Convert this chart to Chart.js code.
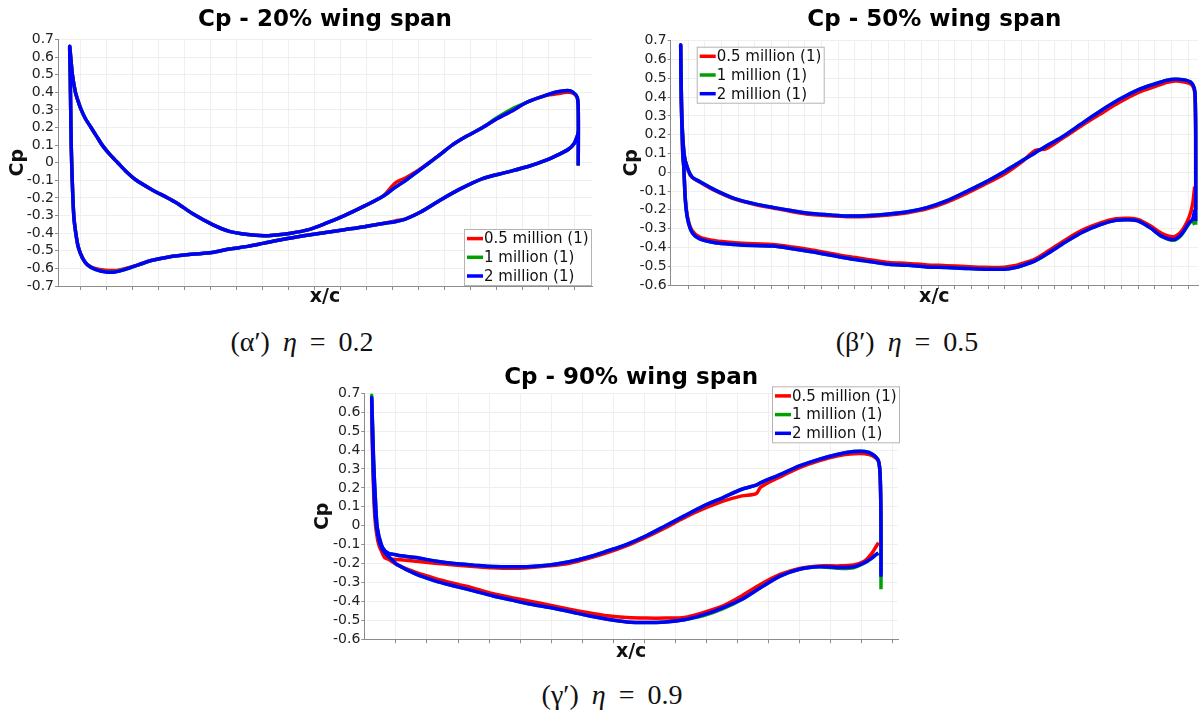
<!DOCTYPE html>
<html>
<head>
<meta charset="utf-8">
<title>Cp distribution along the wing span</title>
<script src="https://cdn.jsdelivr.net/npm/chart.js@4.4.0/dist/chart.umd.min.js"></script>
<style>
  html, body { margin: 0; padding: 0; background: #fff; overflow: hidden; }
  body { width: 1204px; height: 713px; position: relative; }
  canvas { position: absolute; }
  .caption {
    position: absolute;
    font-family: "Liberation Serif", serif;
    font-size: 28px;
    line-height: 30px;
    color: #111;
    white-space: nowrap;
    transform: translateX(-50%);
    word-spacing: 6px;
  }
  .caption i { font-style: italic; }
</style>
</head>
<body>
<canvas id="span20" width="600" height="312" style="left:0;top:0"></canvas>
<canvas id="span50" width="594" height="312" style="left:610px;top:0"></canvas>
<canvas id="span90" width="604" height="312" style="left:300px;top:360px"></canvas>

<div class="caption" style="left:302px;top:327px">(α′) <i>η</i> = 0.2</div>
<div class="caption" style="left:907px;top:327px">(β′) <i>η</i> = 0.5</div>
<div class="caption" style="left:612px;top:680px">(γ′) <i>η</i> = 0.9</div>

<script>
// Mesh sizes compared in every plot
const seriesLabels = ['0.5 million (1)', '1 million (1)', '2 million (1)'];
const seriesColors = ['#ff0000', '#00a000', '#0000ff'];

// --- 20% span: x/c goes TE -> suction side -> LE -> pressure side -> TE
const span20X = [
  1.000, 1.000, 0.998, 0.990, 0.979, 0.955, 0.933, 0.900, 0.873, 0.840, 0.812, 0.780,
  0.752, 0.730, 0.707, 0.684, 0.661, 0.640, 0.616, 0.580, 0.540, 0.503, 0.470, 0.435,
  0.400, 0.382, 0.350, 0.314, 0.280, 0.242, 0.215, 0.204, 0.193, 0.160, 0.129, 0.111,
  0.0945, 0.078, 0.064, 0.053, 0.042, 0.031, 0.0227, 0.0165, 0.0113, 0.0053, 0.002, 0.000,
  0.001, 0.002, 0.003, 0.005, 0.008, 0.012, 0.017, 0.025, 0.035, 0.050, 0.070, 0.090,
  0.110, 0.135, 0.160, 0.195, 0.240, 0.280, 0.314, 0.350, 0.380, 0.420, 0.460, 0.500,
  0.540, 0.580, 0.616, 0.640, 0.660, 0.690, 0.730, 0.767, 0.812, 0.858, 0.903, 0.933,
  0.960, 0.980, 0.992, 0.998, 1.000
];
const span20Red = [
  -0.015, 0.30, 0.37, 0.395, 0.40, 0.39, 0.38, 0.345, 0.30, 0.25, 0.20, 0.15,
  0.10, 0.05, 0.00, -0.045, -0.085, -0.115, -0.19, -0.245, -0.30, -0.345, -0.38, -0.40,
  -0.412, -0.415, -0.408, -0.39, -0.35, -0.29, -0.237, -0.218, -0.20, -0.15, -0.095, -0.05,
  0.00, 0.05, 0.10, 0.15, 0.20, 0.25, 0.30, 0.35, 0.40, 0.50, 0.60, 0.66,
  0.50, 0.30, 0.10, -0.10, -0.30, -0.40, -0.48, -0.54, -0.58, -0.60, -0.61, -0.612,
  -0.60, -0.58, -0.555, -0.535, -0.52, -0.51, -0.49, -0.475, -0.458, -0.435, -0.415, -0.397,
  -0.38, -0.363, -0.345, -0.33, -0.32, -0.28, -0.21, -0.15, -0.09, -0.055, -0.02, 0.01,
  0.045, 0.075, 0.11, 0.15, 0.175
];
const span20Green = [
  -0.015, 0.30, 0.37, 0.40, 0.41, 0.40, 0.38, 0.345, 0.31, 0.255, 0.20, 0.15,
  0.10, 0.05, 0.00, -0.05, -0.10, -0.14, -0.19, -0.245, -0.30, -0.345, -0.38, -0.40,
  -0.412, -0.415, -0.408, -0.39, -0.35, -0.29, -0.237, -0.218, -0.20, -0.15, -0.095, -0.05,
  0.00, 0.05, 0.10, 0.15, 0.20, 0.25, 0.30, 0.35, 0.40, 0.50, 0.60, 0.66,
  0.50, 0.30, 0.10, -0.10, -0.30, -0.40, -0.48, -0.54, -0.58, -0.605, -0.617, -0.617,
  -0.605, -0.58, -0.555, -0.535, -0.52, -0.51, -0.49, -0.475, -0.458, -0.435, -0.415, -0.397,
  -0.38, -0.363, -0.345, -0.335, -0.32, -0.28, -0.21, -0.15, -0.09, -0.055, -0.02, 0.01,
  0.045, 0.075, 0.11, 0.15, 0.175
];
const span20Blue = [
  -0.015, 0.30, 0.37, 0.40, 0.41, 0.40, 0.38, 0.345, 0.30, 0.25, 0.20, 0.15,
  0.10, 0.05, 0.00, -0.05, -0.10, -0.14, -0.19, -0.245, -0.30, -0.345, -0.38, -0.40,
  -0.412, -0.415, -0.408, -0.39, -0.35, -0.29, -0.237, -0.218, -0.20, -0.15, -0.095, -0.05,
  0.00, 0.05, 0.10, 0.15, 0.20, 0.25, 0.30, 0.35, 0.40, 0.50, 0.60, 0.66,
  0.50, 0.30, 0.10, -0.10, -0.30, -0.40, -0.48, -0.54, -0.58, -0.605, -0.62, -0.62,
  -0.605, -0.58, -0.555, -0.535, -0.52, -0.51, -0.49, -0.475, -0.458, -0.435, -0.415, -0.397,
  -0.38, -0.363, -0.345, -0.335, -0.32, -0.28, -0.21, -0.15, -0.09, -0.055, -0.02, 0.01,
  0.045, 0.075, 0.11, 0.15, 0.175
];

// --- 50% span
const span50X = [
  1.000, 1.000, 0.999, 0.997, 0.990, 0.975, 0.960, 0.945, 0.927, 0.889, 0.852, 0.815,
  0.777, 0.740, 0.710, 0.688, 0.665, 0.650, 0.628, 0.590, 0.553, 0.516, 0.478, 0.441,
  0.404, 0.366, 0.329, 0.292, 0.254, 0.217, 0.179, 0.142, 0.105, 0.067, 0.037, 0.022,
  0.015, 0.0075, 0.0037, 0.0015, 0.000,
  0.001, 0.004, 0.006, 0.009, 0.0135, 0.022, 0.037, 0.067, 0.105, 0.142, 0.179, 0.217,
  0.254, 0.292, 0.329, 0.366, 0.404, 0.441, 0.478, 0.516, 0.553, 0.590, 0.628, 0.650,
  0.665, 0.688, 0.710, 0.740, 0.777, 0.815, 0.845, 0.871, 0.889, 0.912, 0.934, 0.957,
  0.972, 0.987, 0.994, 0.998
];
const span50Red = [
  -0.20, 0.20, 0.38, 0.44, 0.47, 0.482, 0.485, 0.478, 0.462, 0.425, 0.372, 0.31,
  0.245, 0.178, 0.126, 0.115, 0.06, 0.03, -0.01, -0.065, -0.115, -0.16, -0.195, -0.215,
  -0.228, -0.235, -0.237, -0.232, -0.225, -0.21, -0.19, -0.17, -0.143, -0.098, -0.052, -0.027,
  0.005, 0.08, 0.20, 0.38, 0.677,
  0.40, 0.10, 0.028, -0.14, -0.24, -0.31, -0.345, -0.365, -0.375, -0.381, -0.385, -0.398,
  -0.413, -0.432, -0.45, -0.465, -0.48, -0.485, -0.493, -0.497, -0.502, -0.506, -0.505, -0.496,
  -0.484, -0.462, -0.425, -0.372, -0.312, -0.27, -0.248, -0.245, -0.252, -0.285, -0.325, -0.343,
  -0.315, -0.24, -0.17, -0.077
];
const span50Green = [
  -0.28, 0.20, 0.40, 0.45, 0.48, 0.493, 0.495, 0.49, 0.475, 0.44, 0.388, 0.326,
  0.256, 0.186, 0.14, 0.103, 0.065, 0.04, 0.003, -0.055, -0.105, -0.152, -0.188, -0.21,
  -0.222, -0.23, -0.233, -0.228, -0.22, -0.205, -0.187, -0.167, -0.14, -0.095, -0.05, -0.025,
  0.01, 0.08, 0.20, 0.38, 0.677,
  0.40, 0.10, 0.028, -0.147, -0.25, -0.32, -0.355, -0.375, -0.384, -0.39, -0.393, -0.407,
  -0.423, -0.442, -0.46, -0.475, -0.49, -0.495, -0.504, -0.507, -0.512, -0.516, -0.516, -0.507,
  -0.495, -0.472, -0.437, -0.384, -0.323, -0.279, -0.256, -0.253, -0.26, -0.296, -0.342, -0.362,
  -0.335, -0.275, -0.26, -0.28
];
const span50Blue = [
  -0.26, 0.20, 0.40, 0.45, 0.48, 0.493, 0.495, 0.49, 0.475, 0.44, 0.388, 0.326,
  0.256, 0.186, 0.14, 0.103, 0.065, 0.04, 0.003, -0.055, -0.105, -0.152, -0.188, -0.21,
  -0.222, -0.23, -0.233, -0.228, -0.22, -0.205, -0.187, -0.167, -0.14, -0.095, -0.05, -0.025,
  0.01, 0.08, 0.20, 0.38, 0.677,
  0.40, 0.10, 0.028, -0.147, -0.25, -0.32, -0.355, -0.375, -0.384, -0.39, -0.393, -0.407,
  -0.423, -0.442, -0.46, -0.475, -0.49, -0.495, -0.504, -0.507, -0.512, -0.516, -0.516, -0.507,
  -0.495, -0.472, -0.437, -0.384, -0.323, -0.279, -0.256, -0.253, -0.26, -0.296, -0.34, -0.358,
  -0.331, -0.27, -0.25, -0.20
];

// --- 90% span
const span90X = [
  1.000, 1.000, 0.9985, 0.995, 0.983, 0.968, 0.946, 0.916, 0.878, 0.840, 0.803, 0.764,
  0.755, 0.727, 0.690, 0.652, 0.614, 0.577, 0.539, 0.501, 0.463, 0.426, 0.388, 0.350,
  0.313, 0.275, 0.237, 0.200, 0.162, 0.124, 0.087, 0.057, 0.041, 0.034, 0.026, 0.019,
  0.011, 0.0075, 0.0038, 0.000,
  0.002, 0.006, 0.012, 0.020, 0.030, 0.040, 0.049, 0.087, 0.124, 0.162, 0.200, 0.237,
  0.275, 0.313, 0.350, 0.388, 0.426, 0.463, 0.501, 0.539, 0.577, 0.614, 0.652, 0.690,
  0.727, 0.764, 0.803, 0.840, 0.878, 0.916, 0.946, 0.968, 0.983, 0.991, 0.995
];
const span90Red = [
  -0.25, 0.00, 0.25, 0.34, 0.37, 0.38, 0.38, 0.37, 0.343, 0.307, 0.26, 0.205,
  0.17, 0.158, 0.13, 0.09, 0.043, -0.01, -0.06, -0.105, -0.142, -0.172, -0.198, -0.212,
  -0.22, -0.225, -0.222, -0.215, -0.207, -0.198, -0.188, -0.18, -0.177, -0.177, -0.17, -0.13,
  -0.05, 0.06, 0.30, 0.67,
  0.35, 0.05, -0.08, -0.14, -0.17, -0.19, -0.205, -0.247, -0.278, -0.305, -0.33, -0.358,
  -0.38, -0.40, -0.42, -0.441, -0.46, -0.476, -0.485, -0.488, -0.488, -0.485, -0.458, -0.423,
  -0.37, -0.309, -0.256, -0.225, -0.212, -0.212, -0.207, -0.186, -0.142, -0.107, -0.089
];
const span90Green = [
  -0.335, 0.00, 0.255, 0.343, 0.378, 0.392, 0.392, 0.378, 0.351, 0.316, 0.272, 0.228,
  0.215, 0.193, 0.149, 0.105, 0.052, 0.00, -0.053, -0.098, -0.133, -0.165, -0.19, -0.207,
  -0.215, -0.217, -0.215, -0.208, -0.20, -0.186, -0.168, -0.159, -0.15, -0.147, -0.133, -0.10,
  -0.01, 0.13, 0.34, 0.69,
  0.40, 0.10, -0.05, -0.12, -0.155, -0.18, -0.203, -0.256, -0.291, -0.318, -0.344, -0.37,
  -0.393, -0.415, -0.432, -0.453, -0.476, -0.494, -0.508, -0.511, -0.508, -0.497, -0.475, -0.438,
  -0.39, -0.326, -0.265, -0.23, -0.217, -0.225, -0.222, -0.197, -0.17, -0.152, -0.147
];
const span90Blue = [
  -0.27, 0.00, 0.255, 0.343, 0.378, 0.392, 0.392, 0.378, 0.351, 0.316, 0.272, 0.228,
  0.215, 0.193, 0.149, 0.105, 0.052, 0.00, -0.053, -0.098, -0.133, -0.165, -0.19, -0.207,
  -0.215, -0.217, -0.215, -0.208, -0.20, -0.186, -0.168, -0.159, -0.15, -0.147, -0.133, -0.10,
  -0.01, 0.13, 0.34, 0.677,
  0.40, 0.10, -0.05, -0.12, -0.155, -0.18, -0.203, -0.256, -0.291, -0.318, -0.344, -0.37,
  -0.393, -0.415, -0.432, -0.453, -0.476, -0.494, -0.508, -0.511, -0.508, -0.497, -0.47, -0.432,
  -0.388, -0.326, -0.265, -0.23, -0.217, -0.22, -0.217, -0.194, -0.168, -0.15, -0.145
];

const fontSans = '"DejaVu Sans", sans-serif';

// Title centred over the plot area (not over the whole canvas)
Chart.register({
    id: 'areaTitle',
    afterDraw(chart, args, opts) {
        if (!opts.text) return;
        const { ctx, chartArea } = chart;
        ctx.save();
        ctx.font = 'bold 23px ' + fontSans;
        ctx.fillStyle = '#000';
        ctx.textAlign = 'center';
        ctx.textBaseline = 'middle';
        ctx.fillText(opts.text, (chartArea.left + chartArea.right) / 2, opts.y);
        ctx.restore();
    }
});

// Boxed legend placed inside / next to the plot area
Chart.register({
    id: 'boxLegend',
    afterDraw(chart, args, opts) {
        if (!opts.place) return;
        const { ctx, chartArea } = chart;
        const w = 128, h = 57, row = 18.7;
        const p = opts.place;
        const left = p.left !== undefined ? chartArea.left + p.left : chartArea.right - w - p.right;
        const top = p.top !== undefined ? chartArea.top + p.top : chartArea.bottom - h - p.bottom;

        ctx.save();
        ctx.fillStyle = '#fff';
        ctx.fillRect(left, top, w, h);
        ctx.strokeStyle = '#b4b4b4';
        ctx.lineWidth = 1;
        ctx.strokeRect(left + 0.5, top + 0.5, w - 1, h - 1);

        ctx.font = '15px ' + fontSans;
        ctx.textBaseline = 'middle';
        chart.data.datasets.forEach((ds, i) => {
            const y = top + 9.6 + i * row;
            ctx.strokeStyle = ds.borderColor;
            ctx.lineWidth = 3.5;
            ctx.beginPath();
            ctx.moveTo(left + 3, y);
            ctx.lineTo(left + 19, y);
            ctx.stroke();
            ctx.fillStyle = '#111';
            ctx.fillText(ds.label, left + 20, y + 1);
        });
        ctx.restore();
    }
});

// Evenly spaced minor ticks of the (unlabelled) x/c axis
function minorTicks(start, step, max) {
    const ticks = [];
    for (let v = start; v < max; v += step) {
        ticks.push({ value: v });
    }
    return ticks;
}

function makeDatasets(xs, series) {
    return series.map((cp, i) => ({
        label: seriesLabels[i],
        data: xs.map((x, k) => ({ x: x, y: cp[k] })),
        borderColor: seriesColors[i],
        backgroundColor: seriesColors[i],
        borderWidth: 3.5,
        pointRadius: 0,
        showLine: true,
        fill: false,
        tension: 0.28,
        borderJoinStyle: 'round',
        borderCapStyle: 'butt',
        // finest mesh ends up on top
        order: series.length - i
    }));
}

function renderCpChart(canvasId, cfg) {
    const ctx = document.getElementById(canvasId).getContext('2d');

    return new Chart(ctx, {
        type: 'scatter',
        data: {
            datasets: makeDatasets(cfg.xs, cfg.series)
        },
        options: {
            responsive: false,
            animation: false,
            layout: {
                padding: { left: 0, top: cfg.top, right: cfg.right, bottom: 0 }
            },
            scales: {
                x: {
                    type: 'linear',
                    min: cfg.xMin,
                    max: cfg.xMax,
                    afterBuildTicks: scale => {
                        scale.ticks = minorTicks(cfg.tickStart, cfg.tickStep, cfg.xMax);
                    },
                    afterFit: scale => {
                        scale.height = cfg.xHeight;
                    },
                    ticks: { display: false, autoSkip: false },
                    grid: {
                        color: '#efefef',
                        tickColor: '#8c8c8c',
                        tickLength: 4
                    },
                    border: { color: '#8c8c8c' },
                    title: {
                        display: true,
                        text: 'x/c',
                        color: '#111',
                        font: { family: fontSans, size: 19, weight: 'bold', lineHeight: 1 },
                        padding: { top: 0, bottom: cfg.xTitlePad }
                    }
                },
                y: {
                    min: cfg.yMin,
                    max: 0.7,
                    afterFit: scale => {
                        scale.width = cfg.yWidth;
                    },
                    ticks: {
                        stepSize: 0.1,
                        autoSkip: false,
                        padding: 1,
                        color: '#222',
                        font: { family: fontSans, size: 14 }
                    },
                    grid: {
                        color: '#efefef',
                        tickColor: '#8c8c8c',
                        tickLength: 3
                    },
                    border: { color: '#8c8c8c' },
                    title: {
                        display: true,
                        text: 'Cp',
                        color: '#111',
                        font: { family: fontSans, size: 19, weight: 'bold', lineHeight: 1 },
                        padding: { top: cfg.yTitlePad, bottom: 0 }
                    }
                }
            },
            plugins: {
                legend: { display: false },
                tooltip: { enabled: false },
                areaTitle: { text: cfg.title, y: cfg.titleY },
                boxLegend: { place: cfg.legend }
            }
        }
    });
}

renderCpChart('span20', {
    title: 'Cp - 20% wing span', titleY: 20,
    xs: span20X, series: [span20Red, span20Green, span20Blue],
    xMin: -0.023, xMax: 1.027, tickStart: 0.0222, tickStep: 0.0511,
    yMin: -0.7,
    top: 39.5, right: 8, yWidth: 58, xHeight: 26,
    xTitlePad: 5.5, yTitlePad: 8.5,
    legend: { right: 0, bottom: 0 }
});

renderCpChart('span50', {
    title: 'Cp - 50% wing span', titleY: 20,
    xs: span50X, series: [span50Red, span50Green, span50Blue],
    xMin: -0.0194, xMax: 1.0045, tickStart: 0.0148, tickStep: 0.03236,
    yMin: -0.6,
    top: 40.7, right: 6, yWidth: 60.7, xHeight: 27,
    xTitlePad: 5.5, yTitlePad: 12.5,
    legend: { left: 26, top: 6 }
});

renderCpChart('span90', {
    title: 'Cp - 90% wing span', titleY: 18,
    xs: span90X, series: [span90Red, span90Green, span90Blue],
    xMin: -0.0145, xMax: 1.0334, tickStart: 0.0477, tickStep: 0.0609,
    yMin: -0.6,
    top: 33.3, right: 6, yWidth: 64.3, xHeight: 32.7,
    xTitlePad: 10.5, yTitlePad: 13.5,
    legend: { right: -2, top: -7 }
});
</script>
</body>
</html>
